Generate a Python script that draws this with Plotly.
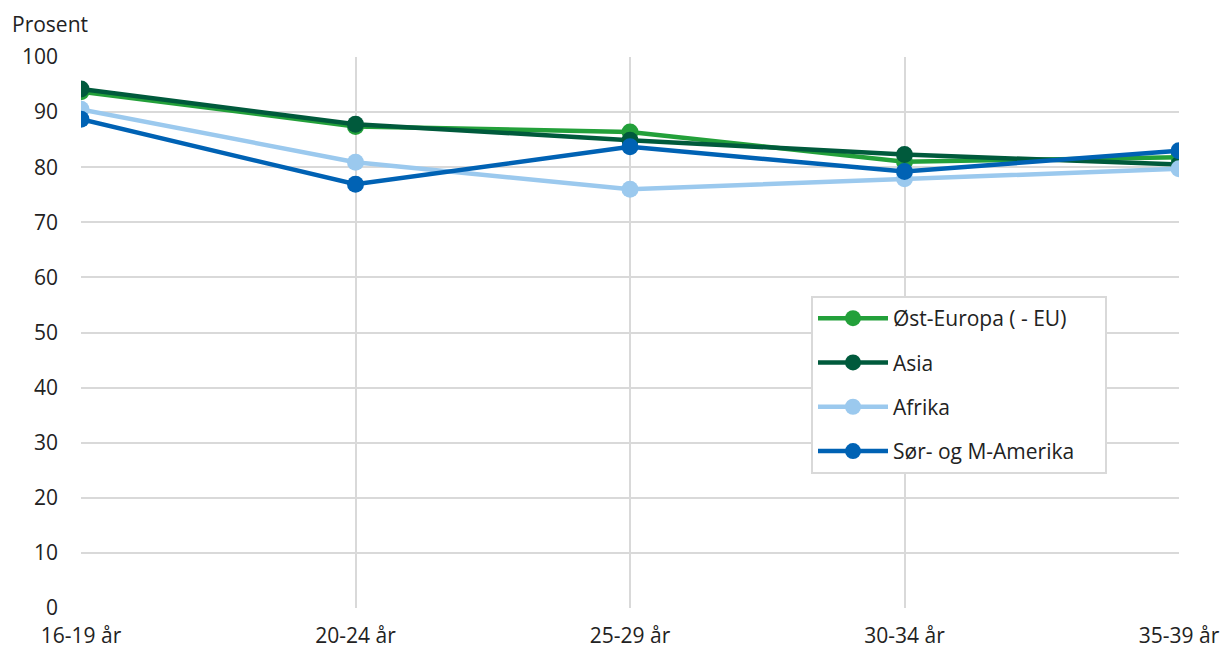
import plotly.graph_objects as go

categories = ["16-19 år", "20-24 år", "25-29 år", "30-34 år", "35-39 år"]
ost_europa = [93.7, 87.4, 86.4, 81.0, 81.8]
asia = [94.2, 87.8, 84.9, 82.3, 80.5]
afrika = [90.5, 80.9, 76.0, 77.9, 79.7]
sor_amerika = [88.7, 76.9, 83.7, 79.2, 83.0]
series_names = ["Øst-Europa ( - EU)", "Asia", "Afrika", "Sør- og M-Amerika"]
y_ticks = [0, 10, 20, 30, 40, 50, 60, 70, 80, 90, 100]

colors = ["#23a03a", "#005a3c", "#9bc9ee", "#0062b4"]
FONT = "Open Sans"
FS = 21

fig = go.Figure()
xs = list(range(len(categories)))
for i, (name, vals) in enumerate(zip(series_names, [ost_europa, asia, afrika, sor_amerika])):
    fig.add_trace(go.Scatter(
        x=xs, y=vals, name=name + "\u00a0" * 6 if i == 0 else name, mode="lines+markers",
        line=dict(color=colors[i], width=4.5),
        marker=dict(color=colors[i], size=17),
        legendgroup=f"g{i}",
    ))

W, H = 1223, 648
L, R, T, B = 81, 44, 57, 40
pw, ph = W - L - R, H - T - B

fig.update_layout(
    width=W, height=H,
    margin=dict(l=L, r=R, t=T, b=B, autoexpand=False),
    paper_bgcolor="white", plot_bgcolor="white",
    font=dict(family=FONT, size=FS, color="#222222"),
    showlegend=True,
    legend=dict(
        x=(811 - L) / pw, y=(H - B - 296) / ph, xanchor="left", yanchor="top",
        bordercolor="#d9d9d9", borderwidth=2, bgcolor="white",
        font=dict(family=FONT, size=FS, color="#222222"),
        tracegroupgap=14, itemwidth=70,
    ),
    xaxis=dict(
        range=[0, len(categories) - 1], tickvals=xs, ticktext=categories,
        showgrid=True, gridcolor="#d9d9d9", gridwidth=2,
        zeroline=False, showline=False, ticks="", ticklabelstandoff=13,
        fixedrange=True, automargin=False,
    ),
    yaxis=dict(
        range=[0, 100], tickvals=y_ticks,
        showgrid=True, gridcolor="#d9d9d9", gridwidth=2,
        zeroline=False, showline=False, ticks="", ticklabelstandoff=22,
        fixedrange=True, automargin=False,
    ),
    annotations=[dict(
        text="Prosent", xref="paper", yref="paper",
        x=(10 - L) / pw, y=(H - B - 24) / ph, xanchor="left", yanchor="middle",
        showarrow=False, font=dict(family=FONT, size=FS, color="#222222"),
    )],
)

fig.write_html(
    "out.html",
    config={"displayModeBar": False},
    post_script="document.body.style.margin='0';document.body.style.overflow='hidden';",
)
